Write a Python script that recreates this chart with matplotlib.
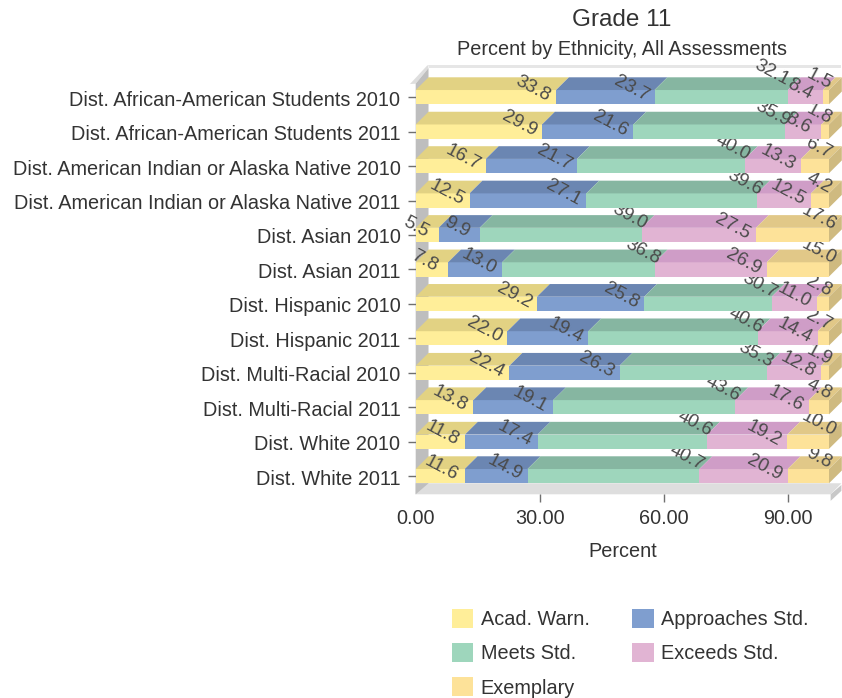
import numpy as np
import matplotlib.pyplot as plt
from matplotlib.patches import Patch
from matplotlib.transforms import Bbox, TransformedBbox, ScaledTranslation

plt.rcParams['font.family'] = ['Liberation Sans', 'DejaVu Sans']

groups = ["Dist. African-American Students 2010", "Dist. African-American Students 2011",
          "Dist. American Indian or Alaska Native 2010", "Dist. American Indian or Alaska Native 2011",
          "Dist. Asian 2010", "Dist. Asian 2011", "Dist. Hispanic 2010", "Dist. Hispanic 2011",
          "Dist. Multi-Racial 2010", "Dist. Multi-Racial 2011", "Dist. White 2010", "Dist. White 2011"]

acad_warn = [33.8, 29.9, 16.7, 12.5, 5.5, 7.8, 29.2, 22.0, 22.4, 13.8, 11.8, 11.6]
approaches = [23.7, 21.6, 21.7, 27.1, 9.9, 13.0, 25.8, 19.4, 26.3, 19.1, 17.4, 14.9]
meets = [32.1, 35.9, 40.0, 39.6, 39.0, 36.8, 30.7, 40.6, 35.3, 43.6, 40.6, 40.7]
exceeds = [8.4, 8.6, 13.3, 12.5, 27.5, 26.9, 11.0, 14.4, 12.8, 17.6, 19.2, 20.9]
exemplary = [1.5, 1.8, 6.7, 4.2, 17.6, 15.0, 2.8, 2.7, 1.9, 4.8, 10.0, 9.8]

series_names = ["Acad. Warn.", "Approaches Std.", "Meets Std.", "Exceeds Std.", "Exemplary"]
front_colors = ["#FFEE99", "#7F9ECF", "#9ED6BC", "#E1B4D3", "#FDE299"]
top_colors = ["#E2D283", "#6B86B2", "#86B6A1", "#CF9DC7", "#E1C888"]
side_color = "#CFBA80"

W, H = 842, 698
text_col = "#333333"
fs = 14.3

fig = plt.figure(figsize=(W / 100, H / 100), dpi=100)
ax = fig.add_axes([415.7 / W, 1 - 494.3 / H, 413.3 / W, 429.3 / H])
ax.set_xlim(0, 100)
ax.set_ylim(11.527, -0.933)

# fake 3d depth, in data units
dx = 3.1
dy = 0.369
half = 0.207

values = np.array([acad_warn, approaches, meets, exceeds, exemplary], dtype=float)
shares = values / values.sum(axis=0) * 100
ends = shares.cumsum(axis=0)
starts = ends - shares

# walls and floor
top, bottom = ax.get_ylim()[1], ax.get_ylim()[0]
floor_y = 11 + half
ax.fill([-1.4, 2.9, 3.1, 0], [-0.38, top, top + 0.09, -0.49 + 0.1], color="#DEDEDE", lw=0, clip_on=False)
ax.fill([2.9, 103, 103, 3.1], [top, top, top + 0.09, top + 0.09], color="#E6E6E6", lw=0, clip_on=False)
ax.fill([0, 3.1, 3.1, 0], [-0.39, top + 0.09, floor_y, bottom], color="#BEBEBE", lw=0, clip_on=False)
ax.fill([0, 103, 100.4, 0], [floor_y, floor_y, bottom, bottom], color="#DEDEDE", lw=0, clip_on=False)
ax.fill([0, 3.1, 0], [floor_y, floor_y, bottom], color="#BEBEBE", lw=0, clip_on=False)
ax.fill([100.4, 103, 103, 100.4], [bottom, floor_y + 0.05, floor_y + 0.22, bottom + 0.19],
        color="#C8C8C8", lw=0, clip_on=False)

for i in range(len(groups)):
    y0, y1 = i - half, i + half
    for s in range(5):
        a, b = starts[s, i], ends[s, i]
        ax.fill([a, b, b, a], [y0, y0, y1, y1], color=front_colors[s], lw=0, zorder=3, clip_on=False)
        ax.fill([a, b, b + dx, a + dx], [y0, y0, y0 - dy, y0 - dy], color=top_colors[s], lw=0, zorder=3, clip_on=False)
    ax.fill([100, 100 + dx, 100 + dx, 100], [y0, y0 - dy, y1 - dy, y1], color=side_color, lw=0, zorder=3, clip_on=False)

# value labels, cut off at the bar above like the original
offsets = [(-23, 1), (-23, 1), (-12, 11), (-23, 1), (-10, 10.5)]
for i in range(len(groups)):
    clip_top = i - 1 + half if i > 0 else top - 1
    box = TransformedBbox(Bbox([[-30, clip_top], [115, i + 0.7]]), ax.transData)
    for s in range(5):
        off = offsets[s]
        if i == 0 and s == 2:
            off = (-16, 17)
        t = ax.annotate(f"{values[s, i]:.1f}", xy=(ends[s, i], i - half),
                        xytext=(off[0] * 0.72, off[1] * 0.72), textcoords="offset points",
                        rotation=-28, rotation_mode="anchor", ha="center", va="center",
                        fontsize=13.6, color="#4A4A4A", zorder=5, annotation_clip=False)
        t.set_clip_box(box)
        t.set_clip_on(True)

for sp in ax.spines.values():
    sp.set_visible(False)
ax.set_yticks(range(len(groups)))
ax.set_yticklabels(groups)
ax.set_xticks([0, 30, 60, 90])
ax.set_xticklabels(["0.00", "30.00", "60.00", "90.00"])
ax.tick_params(axis="y", length=5.5, width=1, color="#707070", pad=5.5, labelsize=fs, labelcolor=text_col)
ax.tick_params(axis="x", length=6, width=1, color="#707070", pad=4.5, labelsize=fs, labelcolor=text_col)
ax.xaxis.get_major_ticks()[0].tick1line.set_visible(False)
ax.set_xlabel("Percent", fontsize=fs, color=text_col, labelpad=10.5)

# nudge the category names down a pixel
nudge = ScaledTranslation(0, -0.01, fig.dpi_scale_trans)
for lab in ax.get_yticklabels():
    lab.set_transform(lab.get_transform() + nudge)

fig.text(622 / W, 1 - 20 / H, "Grade 11", ha="center", va="center", fontsize=17.5, color=text_col)
fig.text(622 / W, 1 - 49.5 / H, "Percent by Ethnicity, All Assessments", ha="center", va="center",
         fontsize=fs, color=text_col)

# legend fills by column, so the order is rearranged
order = [0, 2, 4, 1, 3]
handles = [Patch(color=front_colors[k], lw=0) for k in order]
labels = [series_names[k] for k in order]
fig.legend(handles, labels, ncol=2, frameon=False, fontsize=fs, labelcolor=text_col,
           loc="lower left", bbox_to_anchor=(451.7 / W, 0.5 / H), borderaxespad=0, borderpad=0,
           handlelength=1.09, handleheight=1.09, handletextpad=0.37, labelspacing=0.71, columnspacing=2.16)

fig.savefig("out.png", dpi=100)
